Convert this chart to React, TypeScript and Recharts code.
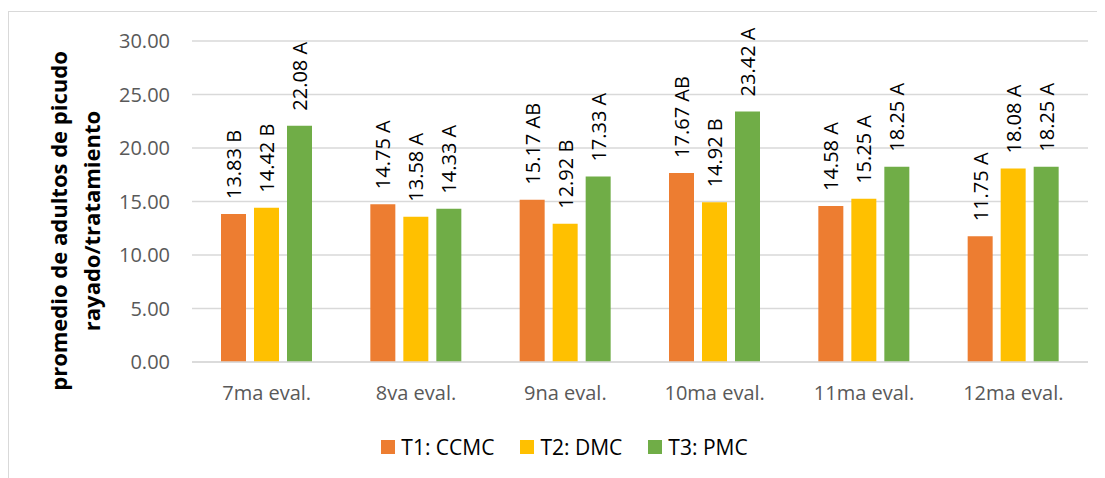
import { BarChart, Bar, XAxis, YAxis, CartesianGrid, Legend, LabelList } from 'recharts';

const categories = ['7ma eval.', '8va eval.', '9na eval.', '10ma eval.', '11ma eval.', '12ma eval.'];
const t1Values = [13.83, 14.75, 15.17, 17.67, 14.58, 11.75];
const t2Values = [14.42, 13.58, 12.92, 14.92, 15.25, 18.08];
const t3Values = [22.08, 14.33, 17.33, 23.42, 18.25, 18.25];
const t1Letters = ['B', 'A', 'AB', 'AB', 'A', 'A'];
const t2Letters = ['B', 'A', 'B', 'B', 'A', 'A'];
const t3Letters = ['A', 'A', 'A', 'A', 'A', 'A'];
const yTicks = [0, 5, 10, 15, 20, 25, 30];

const series = [
  { key: 't1', name: 'T1: CCMC', color: '#ED7D31' },
  { key: 't2', name: 'T2: DMC', color: '#FFC000' },
  { key: 't3', name: 'T3: PMC', color: '#70AD47' },
];

const fmt = (v: number, letter: string) => `${v.toFixed(2)} ${letter}`;

const data = categories.map((cat, i) => ({
  cat,
  t1: t1Values[i],
  t2: t2Values[i],
  t3: t3Values[i],
  t1Label: fmt(t1Values[i], t1Letters[i]),
  t2Label: fmt(t2Values[i], t2Letters[i]),
  t3Label: fmt(t3Values[i], t3Letters[i]),
}));

const FONT = '"Open Sans", sans-serif';

// vertical value label sitting above each bar
const renderBarLabel = (props: any) => {
  const { x, y, width, value } = props;
  const cx = Number(x) + Number(width) / 2;
  const ty = Number(y) - 15;
  return (
    <text
      x={cx}
      y={ty}
      transform={`rotate(-90, ${cx}, ${ty})`}
      textAnchor="start"
      dominantBaseline="central"
      fontSize={20}
      fill="#000"
      fontFamily={FONT}
    >
      {value}
    </text>
  );
};

const renderYTitle = () => {
  const cy = 213;
  const lines = [
    { x: 59, text: 'promedio de adultos de picudo' },
    { x: 92, text: 'rayado/tratamiento' },
  ];
  return (
    <g>
      {lines.map((l) => (
        <text
          key={l.text}
          x={l.x}
          y={cy}
          transform={`rotate(-90, ${l.x}, ${cy})`}
          textAnchor="middle"
          fontSize={22}
          fontWeight="bold"
          fill="#000"
          fontFamily={FONT}
        >
          {l.text}
        </text>
      ))}
    </g>
  );
};

const renderLegend = () => (
  <div
    style={{
      display: 'flex',
      justifyContent: 'center',
      alignItems: 'center',
      gap: 26,
      fontFamily: FONT,
      fontSize: 21,
      color: '#000',
      height: 28,
    }}
  >
    {series.map((s) => (
      <div key={s.key} style={{ display: 'flex', alignItems: 'center', gap: 6 }}>
        <span style={{ width: 14, height: 14, background: s.color, display: 'inline-block' }} />
        <span>{s.name}</span>
      </div>
    ))}
  </div>
);

export default function App() {
  return (
    <div style={{ position: 'relative', width: 1097, height: 470, overflow: 'hidden', fontFamily: FONT }}>
      <div
        style={{
          position: 'absolute',
          left: 0,
          top: 3,
          width: 1120,
          height: 500,
          border: '1px solid #d9d9d9',
          boxSizing: 'border-box',
        }}
      />
      <BarChart
        width={1097}
        height={470}
        data={data}
        margin={{ top: 33, right: 17, left: 0, bottom: 86 }}
        barSize={25}
        barGap={8}
        style={{ position: 'absolute', left: 0, top: 0 }}
      >
        <CartesianGrid vertical={false} stroke="#d9d9d9" strokeWidth={1.3} />
        <XAxis
          dataKey="cat"
          interval={0}
          axisLine={{ stroke: '#d9d9d9', strokeWidth: 1.3 }}
          tickLine={false}
          tickSize={0}
          tickMargin={24}
          height={30}
          tick={{ fill: '#595959', fontSize: 20 }}
        />
        <YAxis
          domain={[0, 30]}
          ticks={yTicks}
          tickFormatter={(v: number) => v.toFixed(2)}
          axisLine={false}
          tickLine={false}
          tickSize={0}
          tickMargin={22}
          width={184}
          tick={{ fill: '#595959', fontSize: 20 }}
          label={{ content: renderYTitle }}
        />
        <Legend
          layout="horizontal"
          verticalAlign="middle"
          align="center"
          content={renderLegend}
          wrapperStyle={{ top: 425, left: 0, width: 1113 }}
        />
        {series.map((s) => (
          <Bar key={s.key} dataKey={s.key} name={s.name} fill={s.color} isAnimationActive={false}>
            <LabelList dataKey={`${s.key}Label`} content={renderBarLabel} />
          </Bar>
        ))}
      </BarChart>
    </div>
  );
}
